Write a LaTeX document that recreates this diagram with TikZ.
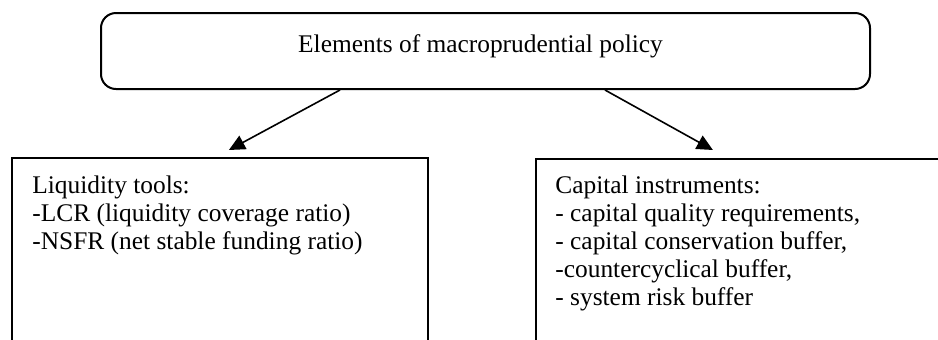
\documentclass[tikz,border=0pt]{standalone}
\usepackage{fontspec}
\setmainfont{Liberation Serif}
\usetikzlibrary{arrows.meta, positioning}

\begin{document}
\begin{tikzpicture}[
    x=0.5pt, y=-0.5pt,
    mainbox/.style={rectangle, draw, rounded corners=7.5pt, line width=1pt, minimum width=384.5pt, minimum height=38pt},
    toolbox/.style={rectangle, draw, line width=0.9pt, minimum width=208pt, minimum height=100pt, anchor=north west},
    boxtext/.style={font=\fontsize{12.7}{14}\selectfont, align=left, inner sep=0pt, anchor=north west},
    arrow/.style={-{Triangle[length=8pt, width=7.5pt]}, line width=0.8pt}
]
\useasboundingbox (0,0) rectangle (938,339);
\clip (0,0) rectangle (938,339);

% Top: macroprudential policy
\node[mainbox] (policy) at (485.5,51) {};
\node[font=\fontsize{12.7}{14}\selectfont, anchor=base, inner sep=0pt] (policytitle) at (480.5,52) {Elements of macroprudential policy};

% Left: liquidity tools
\node[toolbox] (liquidity) at (11,157) {};
\node[boxtext] (liquiditytext) at (32,175) {Liquidity tools:\\-LCR (liquidity coverage ratio)\\-NSFR (net stable funding ratio)};

% Right: capital instruments
\node[toolbox] (capital) at (535,158) {};
\node[boxtext] (capitaltext) at (555,175.5) {Capital instruments:\\- capital quality requirements,\\- capital conservation buffer,\\-countercyclical buffer,\\- system risk buffer};

\draw[arrow] ([xshift=-72.75pt]policy.south) -- ([xshift=4.5pt, yshift=3.5pt]liquidity.north);
\draw[arrow] ([xshift=59.75pt]policy.south) -- ([xshift=-15.5pt, yshift=4pt]capital.north);

\end{tikzpicture}
\end{document}
